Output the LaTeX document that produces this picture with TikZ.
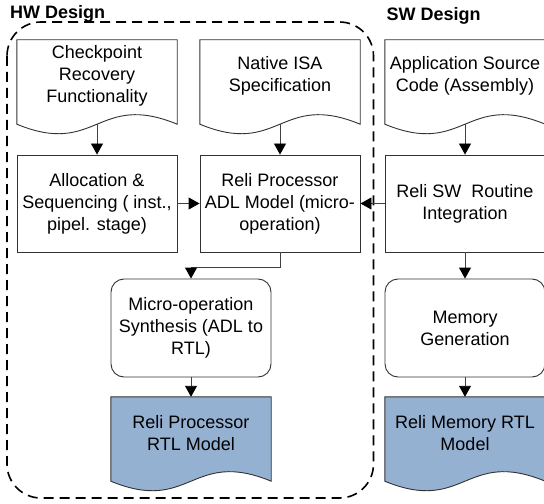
\documentclass[tikz,border=0pt]{standalone}
\usepackage{fontspec}
\setmainfont{Liberation Sans}
\usetikzlibrary{arrows.meta,calc,backgrounds}
\definecolor{rtlblue}{RGB}{149,177,210}
\definecolor{edgegray}{RGB}{50,50,50}
\tikzset{
 txt/.style={font=\fontsize{18bp}{22bp}\selectfont, align=center, inner sep=0pt},
 docbox/.style={txt, minimum width=160bp, minimum height=72bp},
 procbox/.style={txt, draw=edgegray, line width=0.9bp, minimum width=160bp, minimum height=97bp},
 roundbox/.style={procbox, rounded corners=13bp, minimum height=98bp},
 conn/.style={draw=black!75, line width=0.9bp, -{Triangle[width=12bp,length=11bp,color=black]}},
 docline/.style={draw=edgegray, line width=0.9bp},
 titletext/.style={font=\fontsize{18bp}{22bp}\selectfont\bfseries, inner sep=0pt, anchor=base west},
 groupborder/.style={draw=black, line width=1.6bp, dash pattern=on 10bp off 6bp, rounded corners=34bp},
}
\newcommand{\docoutline}[2][]{%
 \path[docline,#1] (#2.north west) -- (#2.north east) -- ($(#2.south east)+(0,12)$)
   .. controls ($(#2.south east)+(-80,-21)$) and ($(#2.south west)+(80,45)$) ..
   ($(#2.south west)+(0,12)$) -- cycle;}
\begin{document}
\begin{tikzpicture}[x=1bp,y=-1bp]
\useasboundingbox (0,0) rectangle (544,504);
% group frame
\draw[groupborder] (7,22) rectangle (373.5,498);
\node[titletext] (hwt) at (10,18.5) {HW Design};
\node[titletext] (swt) at (386.5,20.5) {SW Design};
% document shapes (text nodes)
\node[docbox] (chk) at (97,76) {Checkpoint\\Recovery\\Functionality};
\node[docbox] (isa) at (280,76) {Native ISA\\Specification};
\node[docbox] (app) at (465,76) {Application Source\\Code (Assembly)};
\node[docbox] (rtl) at (191,433) {Reli Processor\\RTL Model};
\node[docbox] (memrtl) at (465,433) {Reli Memory RTL\\Model};
\begin{scope}[on background layer]
 \docoutline{chk}
 \docoutline{isa}
 \docoutline{app}
 \docoutline[fill=rtlblue]{rtl}
 \docoutline[fill=rtlblue]{memrtl}
\end{scope}
% process boxes
\node[procbox] (alloc) at (97,203.5) {Allocation \&\\Sequencing ( inst.,\\pipel. stage)};
\node[procbox] (reli) at (280,203.5) {Reli Processor\\ADL Model (micro-\\operation)};
\node[procbox] (sw) at (465,203.5) {Reli SW\ \ Routine\\Integration};
\node[roundbox] (micro) at (191,328) {Micro-operation\\Synthesis (ADL to\\RTL)};
\node[roundbox] (mem) at (465,328) {Memory\\Generation};
% connectors
\draw[conn] ($(chk.south)+(0,12)$) -- (alloc.north);
\draw[conn] ($(isa.south)+(0,12)$) -- (reli.north);
\draw[conn] ($(app.south)+(0,12)$) -- (sw.north);
\draw[conn] (alloc.east) -- (reli.west);
\draw[conn] (sw.west) -- (reli.east);
\draw[conn] (reli.south) -- ++(0,15) -| (micro.north);
\draw[conn] (micro.south) -- (rtl.north);
\draw[conn] (sw.south) -- (mem.north);
\draw[conn] (mem.south) -- (memrtl.north);
\end{tikzpicture}
\end{document}
